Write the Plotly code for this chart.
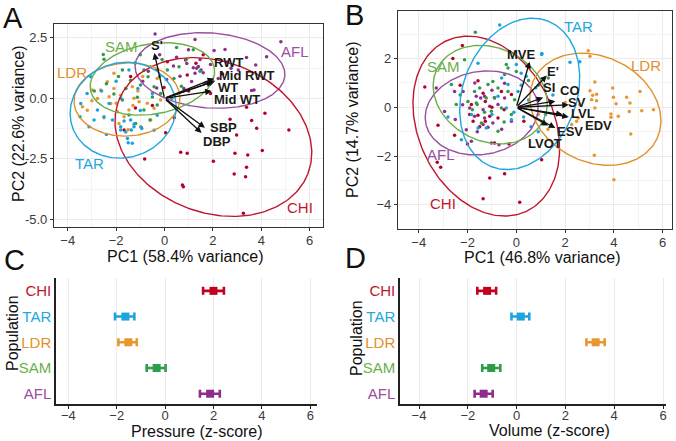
import numpy as np
import plotly.graph_objects as go

W, H = 676, 441
FONT = "Liberation Sans, Arial, Helvetica, sans-serif"

groups = ["AFL", "CHI", "LDR", "SAM", "TAR"]
line_colors = {"AFL": "#9B4DA0", "CHI": "#C0162C", "LDR": "#E3902C", "SAM": "#6BAF4A", "TAR": "#1EA7E1"}
dot_colors = {"AFL": "#8B2F8F", "CHI": "#B5002A", "LDR": "#E8962E", "SAM": "#2E9C4A", "TAR": "#1AA1DB"}

# ---------------- Panel A: PCA of pressure traits ----------------
a_afl_x = [1.26, 2.5, 3.39, 3.77, 4.22, 4.81, 3.7, 3.6, 1.4, 1.33, 1.51, 1.6, 1.26, 0.92, 1.67, 2.22, 2.75, 3.05,
           2.05, 1.12, -0.39, 0.37, 1.19, 1.47, 0.99, 0.64, -0.67, 0.09, -0.32, 2.6, 0.5, -0.2, 1.9, 0.8, -0.9]
a_afl_y = [2.43, 2.02, 1.69, 1.38, 1.72, 2.34, 0.34, 0.32, 1.31, 1.24, 1.17, 1.06, 1.03, 1.44, 0.62, 0.82, 1.24, 1.17,
           1.97, 0.69, 2.66, 1.33, 1.26, 1.6, 2.01, 0.91, 1.12, 0.78, 0.43, 1.5, 1.7, 1.8, 1.4, 0.4, 0.7]
a_chi_x = [-1.67, 0.05, 0.67, 0.94, -0.82, 0.78, 0.74, 2.71, 3.6, 3.81, 4.15, 5.14, 2.98, 2.91, 3.44, 4.04, 2.02, 2.88,
           3.39, 3.35, 3.26, 3.39, 0.12, 0.87, 0.94, -0.02, -1.2, 1.3, 2.4, 1.9, -0.5, 1.0, -1.4, 0.4, 1.6, -0.3]
a_chi_y = [-1.31, -1.42, -2.23, -2.27, -2.51, -3.65, -3.58, -0.87, -0.92, -1.24, -0.62, -1.31, -1.52, -2.27, -2.34, -2.16,
           -2.6, -3.13, -2.85, -3.24, -4.75, -0.37, 1.51, 1.58, 0.96, 0.45, -0.4, 1.45, 1.0, 0.2, -0.3, 0.3, 0.9, -0.8, 1.8, 1.2]
a_ldr_x = [-3.39, -3.19, -2.77, -2.09, -2.36, -2.64, -2.29, -2.22, -1.81, -1.6, -1.33, -1.26, -1.05, -1.95, -1.47, -0.71,
           -0.43, -1.67, -1.88, -0.99, -0.57, -0.16, -2.98, -2.09, -0.3, -0.57, -1.5, -2.5, -0.9, -3.0, -1.3, -2.0, -1.1]
a_ldr_y = [-0.35, -0.49, -0.01, 0.41, 0.68, 0.34, 0.06, -0.21, 0.13, 0.41, 0.48, 0.0, -0.14, -0.55, -0.48, -0.2,
           -0.41, -0.76, -1.04, -1.18, -0.9, -0.07, 0.34, 1.03, 0.82, 1.3, -1.3, -0.8, 0.9, -0.1, -0.3, -0.2, 0.3]
a_sam_x = [-2.5, -1.74, -0.85, -0.68, -1.4, -0.99, -0.43, -0.16, -1.12, -1.74, -2.09, 0.12, 0.39, 0.6, -0.3, -0.85,
           -1.47, -1.19, 1.19, 1.47, -1.22, -2.53, -0.1, 0.7, -2.4, -0.5, 0.3, -1.9, -0.2, 0.9, -1.0, -2.9, -0.6, -1.6, 0.5]
a_sam_y = [1.61, 1.17, 1.17, 0.89, 0.75, 0.55, 0.48, 0.2, 0.04, -0.07, 0.18, 1.17, 0.82, 1.3, -0.28, -0.48,
           -0.69, -1.04, 2.01, 1.12, 1.46, 1.81, 1.6, 0.5, 0.6, 0.05, 0.0, 0.9, 0.9, 1.6, 1.8, 0.3, -0.9, 0.4, 2.1]
a_tar_x = [-3.05, -3.46, -3.49, -2.91, -2.5, -3.12, -2.77, -2.29, -1.81, -2.15, -1.81, -1.6, -1.26, -0.94, -1.4, -0.43,
           0.12, -1.47, -1.81, -1.37, -1.26, -0.96, -1.53, -1.5, -1.33, -1.67, -2.6, -1.0, -0.5, -2.0, -3.2, -0.3, -2.4, -1.1]
a_tar_y = [0.89, -0.21, -0.76, -0.9, -0.76, -1.18, -0.48, -0.21, 0.0, -0.9, -1.18, -1.39, -1.18, -1.25, -0.9, -1.32,
           -0.07, 1.17, -1.31, -1.31, -1.06, -1.2, -1.66, -1.84, -1.86, -0.94, 0.3, -0.5, 0.2, 0.7, 0.2, -0.7, -1.5, 0.4]

# ellipse parameters (order of groups): centre, semi-axes, rotation in degrees
a_ell_cx = [1.88, 2.02, -1.55, -0.5, -1.71]
a_ell_cy = [1.15, -1.6, -0.05, 0.8, -0.49]
a_ell_ra = [3.1, 4.19, 2.19, 2.6, 2.21]
a_ell_rb = [1.55, 3.12, 1.51, 1.45, 1.96]
a_ell_ang = [-4, -21.2, 3, 10, 17]

a_grp_label_x = [5.39, 5.6, -3.84, -1.77, -3.08]
a_grp_label_y = [1.95, -4.52, 1.05, 2.15, -2.71]

a_var_names = ["S'", "RWT", "Mid RWT", "WT", "Mid WT", "SBP", "DBP"]
a_load_x = [-0.42, 2.05, 2.1, 2.0, 1.95, 1.67, 1.53]
a_load_y = [1.87, 0.82, 0.72, 0.68, 0.3, -1.22, -1.43]
a_lab_x = [-0.32, 2.64, 3.39, 2.64, 2.98, 2.43, 2.15]
a_lab_y = [2.17, 1.47, 0.96, 0.45, -0.07, -1.22, -1.79]

# ---------------- Panel B: PCA of volume traits ----------------
b_afl_x = [-3.28, -2.94, -2.53, -1.64, -1.3, -0.89, -0.48, -1.91, -1.71, -1.36, -1.16, -0.96, -1.3, -0.2, -1.84, -1.02,
           -0.71, -1.46, -2.18, -2.05, -0.48, -0.75, -1.36, -1.09, -2.5, -1.6, -0.6, -2.2, -1.0, -1.7]
b_afl_y = [0.79, -0.17, 0.65, 0.45, 0.45, 0.38, 0.38, -0.03, -0.37, -0.71, -0.82, -0.64, -0.44, -0.57, -1.39, -1.46,
           -1.53, 0.38, 0.65, -0.92, 0.99, 0.11, -0.1, 0.04, -0.5, -1.0, -0.9, 0.1, 0.7, 1.0]
b_chi_x = [-3.75, -2.21, -3.21, -3.24, -3.1, -2.53, -1.09, -0.48, -1.36, -1.57, -1.91, -1.57, -1.27, -1.09, -1.36, -0.61,
           -0.89, -0.2, -1.77, -1.27, -0.75, 0.31, -1.84, 1.04, 0.14, -2.6, -2.3, -0.3, -1.0, -0.5, -1.5, -2.0]
b_chi_y = [0.83, 2.53, -0.74, -2.25, -2.46, -1.15, -2.9, -2.72, -3.75, 1.09, -0.3, -0.33, 0.24, -0.37, 0.58, 0.65,
           -1.46, 0.52, -0.57, -0.57, -0.44, -0.57, 0.11, -2.15, -3.89, 2.0, 0.9, -1.5, 0.0, -0.1, -0.8, -1.5]
b_ldr_x = [2.95, 3.02, 3.22, 3.02, 3.13, 3.29, 3.29, 3.09, 3.95, 3.98, 4.09, 4.52, 4.66, 5.07, 5.14, 5.62, 4.63, 3.88,
           3.88, 4.18, 4.69, 3.2, 4.0, 2.54, 2.47, 2.27, 3.22, 1.16, 0.9, 1.3, 2.0, 2.6]
b_ldr_y = [2.32, 2.09, 1.04, 0.68, 0.49, 0.54, 0.27, 0.31, 0.79, 0.41, 0.15, 0.41, 0.18, 0.65, -0.14, -0.1, -0.17, -0.27,
           -0.41, -0.37, -1.09, -1.97, -2.97, -0.44, -0.57, -0.71, -0.03, -0.66, -0.3, -0.9, 0.2, 0.1]
b_sam_x = [-1.68, -2.12, -2.66, -2.46, -1.98, -1.64, -1.6, -1.5, -0.96, -0.75, -0.48, -0.34, -0.61, -1.02, -1.23, -1.43,
           -0.5, -0.2, -0.75, -0.34, -1.71, -0.07, -1.16, -0.41, 0.0, 1.31, 0.9, -2.3, -1.3, 0.5, -0.9, -1.8]
b_sam_y = [3.08, 1.95, 0.93, 0.11, 0.24, 0.18, 0.11, 0.79, 1.06, 0.79, 1.34, 1.61, -0.03, -0.16, 0.38, -0.64,
           -0.6, -0.3, -0.98, 0.65, 0.65, 0.31, 0.93, 1.75, 1.47, 1.2, 0.9, 0.5, -0.2, 1.1, 0.4, -0.1]
b_tar_x = [-0.68, -1.57, 0.0, 0.2, -0.34, -0.75, -1.57, -2.25, -1.23, -0.2, -0.41, -1.84, 0.07, 0.41, 1.05, 2.6, 1.04,
           2.2, 0.5, 0.8, -0.1, 0.3, 1.2, 0.9, -0.6, -1.0, 0.6, -2.8, 1.5, 0.2]
b_tar_y = [3.37, 1.81, 1.75, 1.4, 0.93, 0.45, -0.85, -1.33, -0.85, -0.51, -0.03, -0.3, 0.65, 1.27, 2.21, 1.87, 2.16,
           1.85, 0.3, 0.8, -0.2, -0.4, -0.3, -1.0, 1.2, -0.3, -0.8, -0.4, 0.5, 0.9]

b_ell_cx = [-1.42, -1.23, 3.24, -1.07, 0.14]
b_ell_cy = [-0.23, -0.77, -0.08, 0.52, 0.55]
b_ell_ra = [2.33, 3.86, 2.8, 2.42, 3.2]
b_ell_rb = [1.7, 2.78, 2.16, 1.92, 2.33]
b_ell_ang = [10, -64.8, -26.2, -25.2, 69]

b_grp_label_x = [-3.07, -3.0, 5.33, -3.0, 2.53]
b_grp_label_y = [-1.93, -3.94, 1.73, 1.69, 3.33]

b_var_names = ["MVE", "E'", "SI", "CO", "SV", "LVL", "EDV", "ESV", "LVOT"]
b_load_x = [0.55, 1.25, 1.1, 1.6, 2.15, 2.15, 1.9, 1.6, 1.3]
b_load_y = [1.87, 1.3, 0.4, 0.25, 0.1, -0.4, -0.3, -0.85, -0.75]
b_lab_x = [0.22, 1.52, 1.35, 2.2, 2.5, 2.74, 3.36, 2.2, 1.18]
b_lab_y = [2.17, 1.47, 0.82, 0.69, 0.21, -0.26, -0.74, -1.01, -1.5]

# ---------------- Panels C, D: population means ----------------
populations = ["CHI", "TAR", "LDR", "SAM", "AFL"]
pop_pos = [5, 4, 3, 2, 1]
pressure_mean = [2.0, -1.64, -1.52, -0.35, 1.86]
pressure_lo = [1.57, -2.07, -1.93, -0.76, 1.44]
pressure_hi = [2.43, -1.27, -1.17, 0.02, 2.26]
volume_mean = [-1.21, 0.17, 3.24, -1.04, -1.35]
volume_lo = [-1.61, -0.21, 2.86, -1.41, -1.72]
volume_hi = [-0.84, 0.52, 3.61, -0.67, -0.98]
bar_colors = {"CHI": "#C4001F", "TAR": "#1BA4DE", "LDR": "#E8962E", "SAM": "#2E9D4B", "AFL": "#8E2C8E"}

fig = go.Figure()

def ellipse(cx, cy, ra, rb, ang):
    t = np.linspace(0, 2 * np.pi, 240)
    th = np.deg2rad(ang)
    ex = cx + ra * np.cos(t) * np.cos(th) - rb * np.sin(t) * np.sin(th)
    ey = cy + ra * np.cos(t) * np.sin(th) + rb * np.sin(t) * np.cos(th)
    return ex, ey

panelA_pts = {"AFL": (a_afl_x, a_afl_y), "CHI": (a_chi_x, a_chi_y), "LDR": (a_ldr_x, a_ldr_y),
              "SAM": (a_sam_x, a_sam_y), "TAR": (a_tar_x, a_tar_y)}
panelB_pts = {"AFL": (b_afl_x, b_afl_y), "CHI": (b_chi_x, b_chi_y), "LDR": (b_ldr_x, b_ldr_y),
              "SAM": (b_sam_x, b_sam_y), "TAR": (b_tar_x, b_tar_y)}

annotations = []

for (pts, ecx, ecy, era, erb, eang, glx, gly, xa, ya) in [
    (panelA_pts, a_ell_cx, a_ell_cy, a_ell_ra, a_ell_rb, a_ell_ang, a_grp_label_x, a_grp_label_y, "x", "y"),
    (panelB_pts, b_ell_cx, b_ell_cy, b_ell_ra, b_ell_rb, b_ell_ang, b_grp_label_x, b_grp_label_y, "x2", "y2"),
]:
    for g in groups:
        px_, py_ = pts[g]
        fig.add_trace(go.Scatter(x=px_, y=py_, mode="markers", xaxis=xa, yaxis=ya,
                                 marker=dict(size=3.5, color=dot_colors[g]), showlegend=False, hoverinfo="skip"))
    for i, g in enumerate(groups):
        ex, ey = ellipse(ecx[i], ecy[i], era[i], erb[i], eang[i])
        fig.add_trace(go.Scatter(x=ex, y=ey, mode="lines", xaxis=xa, yaxis=ya,
                                 line=dict(color=line_colors[g], width=1.4), showlegend=False, hoverinfo="skip"))
        annotations.append(dict(x=glx[i], y=gly[i], xref=xa, yref=ya, text=g, showarrow=False,
                                font=dict(family=FONT, size=15, color=line_colors[g])))

for names, lx, ly, tx, ty, xa, ya in [
    (a_var_names, a_load_x, a_load_y, a_lab_x, a_lab_y, "x", "y"),
    (b_var_names, b_load_x, b_load_y, b_lab_x, b_lab_y, "x2", "y2"),
]:
    for i, n in enumerate(names):
        annotations.append(dict(x=lx[i], y=ly[i], ax=0, ay=0, xref=xa, yref=ya, axref=xa, ayref=ya,
                                text="", showarrow=True, arrowhead=2, arrowsize=1, arrowwidth=1.3,
                                arrowcolor="#111111", standoff=0, startstandoff=0))
        annotations.append(dict(x=tx[i], y=ty[i], xref=xa, yref=ya, text="<b>%s</b>" % n, showarrow=False,
                                font=dict(family=FONT, size=13, color="#1a1a1a")))

for means, lo, hi, xa, ya in [(pressure_mean, pressure_lo, pressure_hi, "x3", "y3"),
                              (volume_mean, volume_lo, volume_hi, "x4", "y4")]:
    for i, p in enumerate(populations):
        fig.add_trace(go.Scatter(
            x=[means[i]], y=[pop_pos[i]], mode="markers", xaxis=xa, yaxis=ya,
            marker=dict(symbol="square", size=8, color=bar_colors[p]),
            error_x=dict(type="data", symmetric=False, array=[hi[i] - means[i]],
                         arrayminus=[means[i] - lo[i]], color=bar_colors[p], thickness=2.6, width=4),
            showlegend=False, hoverinfo="skip"))

def px_dom_x(a, b):
    return [a / W, b / W]

def px_dom_y(top, bottom):
    return [1 - bottom / H, 1 - top / H]

tickfont = dict(family=FONT, size=13, color="#3a3a3a")
common_box = dict(showline=True, mirror=True, linecolor="#333333", linewidth=1.2, ticks="outside", ticklen=3,
                  tickcolor="#333333", zeroline=False, showgrid=True, gridcolor="#EBEBEB", gridwidth=1,
                  tickfont=tickfont)
bottom_axis = dict(showline=True, linecolor="#222222", linewidth=1.5, ticks="outside", ticklen=3,
                   tickcolor="#222222", zeroline=False, showgrid=True, gridcolor="#EBEBEB", tickfont=tickfont,
                   ticklabelstandoff=-4)
left_cat_axis = dict(showline=True, linecolor="#222222", linewidth=1.5, ticks="", zeroline=False, showgrid=False,
                     tickfont=dict(family=FONT, size=15))

fig.update_layout(
    width=W, height=H, margin=dict(l=0, r=0, t=0, b=0),
    paper_bgcolor="white", plot_bgcolor="white", showlegend=False,
    font=dict(family=FONT),
    xaxis=dict(domain=px_dom_x(54, 323), range=[-4.566, 6.55], anchor="y", tickvals=[-4, -2, 0, 2, 4, 6],
               ticklabelstandoff=-2,
               minor=dict(showgrid=True, gridcolor="#F4F4F4", gridwidth=0.6, dtick=1, tick0=-5), **common_box),
    yaxis=dict(domain=px_dom_y(24, 227), range=[-5.318, 3.07], anchor="x", tickvals=[-5, -2.5, 0, 2.5],
               ticktext=["-5.0", "-2.5", "0.0", "2.5"],
               minor=dict(showgrid=True, gridcolor="#F4F4F4", gridwidth=0.6, dtick=1.25, tick0=-6.25), **common_box),
    xaxis2=dict(domain=px_dom_x(398, 672), range=[-4.848, 6.381], anchor="y2", tickvals=[-4, -2, 0, 2, 4, 6],
                ticklabelstandoff=-2,
                minor=dict(showgrid=True, gridcolor="#F4F4F4", gridwidth=0.6, dtick=1, tick0=-5), **common_box),
    yaxis2=dict(domain=px_dom_y(11, 229), range=[-4.988, 3.947], anchor="x2", tickvals=[-4, -2, 0, 2],
                minor=dict(showgrid=True, gridcolor="#F4F4F4", gridwidth=0.6, dtick=1, tick0=-5), **common_box),
    xaxis3=dict(domain=px_dom_x(56, 317), range=[-4.508, 6.277], anchor="y3", tickvals=[-4, -2, 0, 2, 4, 6],
                **bottom_axis),
    yaxis3=dict(domain=px_dom_y(278, 404), range=[0.6, 5.5], anchor="x3", tickvals=pop_pos,
                ticktext=['<span style="color:%s">%s</span>' % (line_colors[p], p) for p in populations],
                **left_cat_axis),
    xaxis4=dict(domain=px_dom_x(400, 666), range=[-4.779, 6.123], anchor="y4", tickvals=[-4, -2, 0, 2, 4, 6],
                **bottom_axis),
    yaxis4=dict(domain=px_dom_y(278, 404), range=[0.6, 5.5], anchor="x4", tickvals=pop_pos,
                ticktext=['<span style="color:%s">%s</span>' % (line_colors[p], p) for p in populations],
                **left_cat_axis),
)

def paper_text(px, py, text, size=16, angle=0):
    return dict(x=px / W, y=1 - py / H, xref="paper", yref="paper", text=text, showarrow=False,
                textangle=angle, xanchor="center", yanchor="middle",
                font=dict(family=FONT, size=size, color="#111111"))

annotations += [
    paper_text(12.5, 18, "A", 29), paper_text(354.5, 15, "B", 29),
    paper_text(14, 260, "C", 29), paper_text(355, 258, "D", 29),
    paper_text(18, 124, "PC2 (22.6% variance)", 16, -90),
    paper_text(353, 119, "PC2 (14.7% variance)", 16, -90),
    paper_text(185, 256, "PC1 (58.4% variance)", 16),
    paper_text(542, 257, "PC1 (46.8% variance)", 16),
    paper_text(12, 333, "Population", 16, -90),
    paper_text(356, 338, "Population", 16, -90),
    paper_text(196.7, 431, "Pressure (z-score)", 16),
    paper_text(549.7, 430, "Volume (z-score)", 16),
]
fig.update_layout(annotations=annotations)

fig.write_html("out.html", config={"displayModeBar": False},
               post_script="document.body.style.margin='0px';document.body.style.padding='0px';")
